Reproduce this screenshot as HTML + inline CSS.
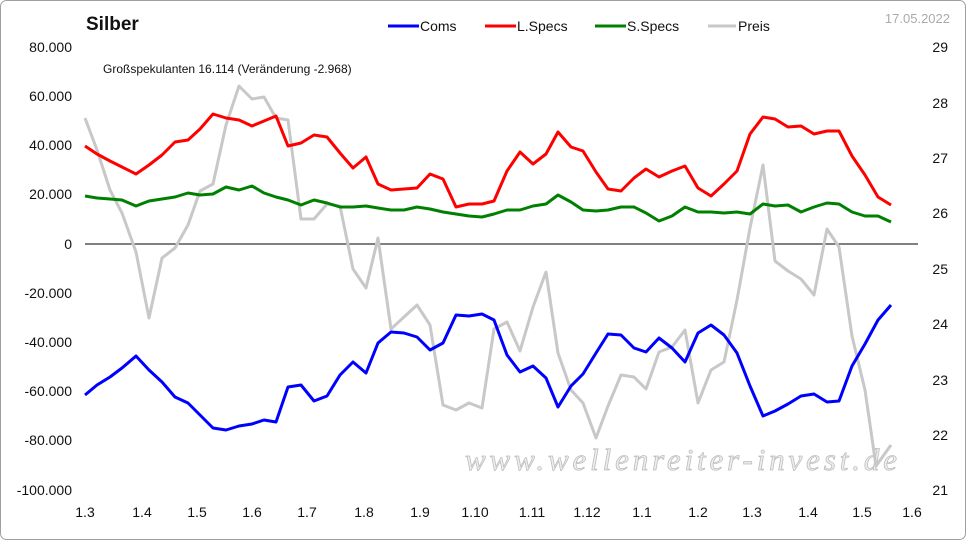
<!DOCTYPE html>
<html><head><meta charset="utf-8"><style>
html,body{margin:0;padding:0;background:#fff}
svg{display:block;font-family:"Liberation Sans",sans-serif}
</style></head><body>
<svg width="966" height="540" viewBox="0 0 966 540" xmlns="http://www.w3.org/2000/svg">
<rect x="0.5" y="0.5" width="965" height="539" rx="6" fill="#fff" stroke="#a0a0a0"/>
<text x="86" y="30" font-size="19" font-weight="bold" fill="#111">Silber</text>
<g font-size="14" fill="#111">
<line x1="388" y1="26" x2="419" y2="26" stroke="#0000ff" stroke-width="3"/><text x="420" y="31">Coms</text>
<line x1="485" y1="26" x2="516" y2="26" stroke="#ff0000" stroke-width="3"/><text x="517" y="31">L.Specs</text>
<line x1="595" y1="26" x2="626" y2="26" stroke="#008000" stroke-width="3"/><text x="627" y="31">S.Specs</text>
<line x1="708" y1="26" x2="736" y2="26" stroke="#c8c8c8" stroke-width="3"/><text x="738" y="31">Preis</text>
</g>
<text x="950" y="23" font-size="13" fill="#aaa" text-anchor="end">17.05.2022</text>
<text x="103" y="73" font-size="12" fill="#111">Großspekulanten 16.114 (Veränderung -2.968)</text>
<g font-size="14" fill="#111" text-anchor="end">
<text x="72" y="52">80.000</text><text x="72" y="101">60.000</text><text x="72" y="150">40.000</text>
<text x="72" y="199">20.000</text><text x="72" y="249">0</text><text x="72" y="298">-20.000</text>
<text x="72" y="347">-40.000</text><text x="72" y="396">-60.000</text><text x="72" y="445">-80.000</text>
<text x="72" y="495">-100.000</text>
</g>
<g font-size="14" fill="#111" text-anchor="end">
<text x="948" y="52">29</text><text x="948" y="108">28</text><text x="948" y="163">27</text>
<text x="948" y="218">26</text><text x="948" y="274">25</text><text x="948" y="329">24</text>
<text x="948" y="385">23</text><text x="948" y="440">22</text><text x="948" y="495">21</text>
</g>
<g font-size="14" fill="#111" text-anchor="middle">
<text x="85" y="517">1.3</text><text x="142" y="517">1.4</text><text x="197" y="517">1.5</text>
<text x="252" y="517">1.6</text><text x="307" y="517">1.7</text><text x="364" y="517">1.8</text>
<text x="420" y="517">1.9</text><text x="475" y="517">1.10</text><text x="532" y="517">1.11</text>
<text x="587" y="517">1.12</text><text x="642" y="517">1.1</text><text x="698" y="517">1.2</text>
<text x="752" y="517">1.3</text><text x="808" y="517">1.4</text><text x="862" y="517">1.5</text>
<text x="912" y="517">1.6</text>
</g>
<line x1="85" y1="244" x2="918" y2="244" stroke="#000" stroke-width="1"/>
<text x="465" y="470" font-size="31" font-style="italic" font-family="Liberation Serif,serif" fill="#eee" stroke="#bdbdbd" stroke-width="0.8" textLength="432" lengthAdjust="spacing">www.wellenreiter-invest.de</text>
<g fill="none" stroke-width="3" stroke-linejoin="round">
<polyline stroke="#c8c8c8" points="85,118 97,150 110,190 122,213 136,252 149,318 162,258 175,248 188,225 200,191 213,184 226,125 239,86 252,99 264,97 276,118 288,120 301,219 314,219 327,204 340,206 353,269 366,288 378,238 391,329 404,317 417,305 430,325 443,405 456,410 469,403 482,408 494,329 507,322 520,351 533,307 546,272 558,353 571,390 583,403 596,438 608,406 621,375 634,377 646,389 659,352 672,347 685,330 698,403 711,370 724,362 737,300 750,228 763,165 775,261 788,271 801,279 814,295 827,229 839,247 852,336 865,390 876,466 891,445"/>
<polyline stroke="#008000" points="85,196 97,198 110,199 122,200 136,206 149,201 162,199 175,197 188,193 200,195 213,194 226,187 239,190 252,186 264,193 276,197 288,200 301,205 314,200 327,203 340,207 353,207 366,206 378,208 391,210 404,210 417,207 430,209 443,212 456,214 469,216 482,217 494,214 507,210 520,210 533,206 546,204 558,195 571,202 583,210 596,211 608,210 621,207 634,207 646,213 659,221 672,216 685,207 698,212 711,212 724,213 737,212 750,214 763,204 775,206 788,205 801,212 814,207 827,203 839,204 852,212 865,216 878,216 891,222"/>
<polyline stroke="#ff0000" points="85,146 97,154 110,161 122,167 136,174 149,165 162,155 175,142 188,140 200,129 213,114 226,118 239,120 252,126 264,121 276,116 288,146 301,143 314,135 327,137 340,153 353,168 366,157 378,184 391,190 404,189 417,188 430,174 443,179 456,207 469,204 482,204 494,201 507,171 520,152 533,164 546,154 558,132 571,147 583,151 596,172 608,189 621,191 634,178 646,169 659,177 672,171 685,166 698,188 711,196 724,184 737,171 750,134 763,117 775,119 788,127 801,126 814,134 827,131 839,131 852,156 865,175 878,197 891,205"/>
<polyline stroke="#0000ff" points="85,395 97,385 110,377 122,368 136,356 149,370 162,382 175,397 188,403 200,415 213,428 226,430 239,426 252,424 264,420 276,422 288,387 301,385 314,401 327,396 340,375 353,362 366,373 378,343 391,332 404,333 417,337 430,350 443,343 456,315 469,316 482,314 494,320 507,355 520,372 533,366 546,378 558,407 571,386 583,374 596,353 608,334 621,335 634,348 646,352 659,338 672,348 685,362 698,333 711,325 724,335 737,353 750,386 763,416 775,411 788,404 801,396 814,394 827,402 839,401 852,366 865,344 878,320 891,305"/>
</g>
</svg>
</body></html>
